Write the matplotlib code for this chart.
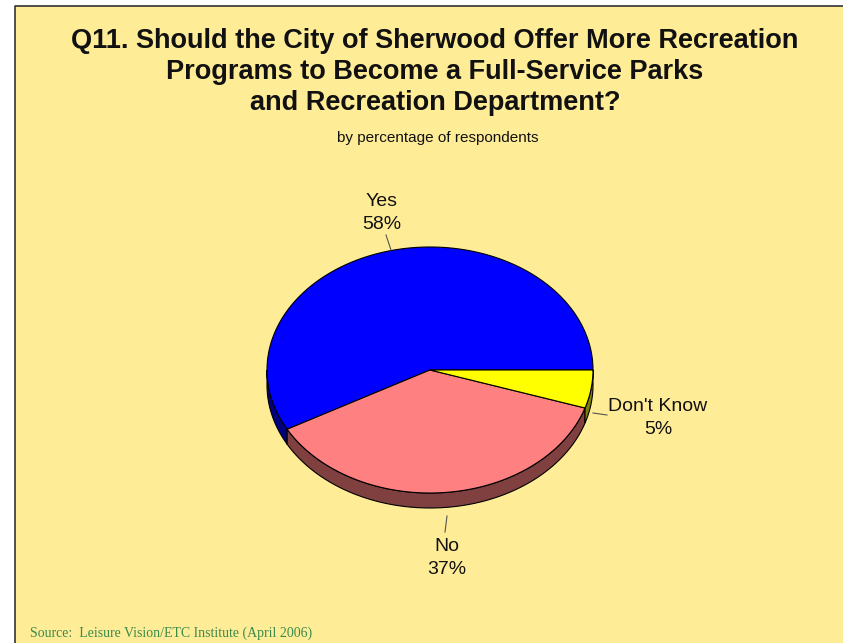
import numpy as np
import matplotlib.pyplot as plt
from matplotlib.patches import Polygon, Rectangle

# survey answers, percent of respondents
labels = ['Yes', 'No', "Don't Know"]
shares = [58, 37, 5]

top_colors = ['#0000FF', '#FF8080', '#FFFF00']
side_colors = ['#000080', '#804040', '#808000']

# label anchor (text centre) and leader end, in pixels
label_pos = [(382, 213), (447, 558), (658, 418)]
leader_end = [(386, 235), (445, 532), (607, 415)]
leader_start = [(391, 250), (447, 516), (593, 413)]

cx, cy = 430, 370      # centre of the top face
rx, ry = 163, 123      # semi axes of the tilted disc
depth = 15             # thickness of the side wall

W, H = 843, 643


def rim(t):
    """point on the top ellipse, t in degrees counter-clockwise from 3 o'clock"""
    t = np.radians(t)
    return cx + rx * np.cos(t), cy - ry * np.sin(t)


fig = plt.figure(figsize=(W / 100, H / 100), dpi=100)
fig.patch.set_facecolor('white')
ax = fig.add_axes([0, 0, 1, 1])
ax.set_xlim(0, W)
ax.set_ylim(H, 0)
ax.axis('off')

# slide panel
ax.add_patch(Rectangle((15, 6), W - 15, H - 6, facecolor='#FFEC97', edgecolor='none', zorder=0))
ax.plot([15, 15, W], [H, 6, 6], color='#333333', lw=1.2, zorder=1)

# slice angles
bounds = np.concatenate([[0], np.cumsum(shares)]) / sum(shares) * 360.0

# side walls (only the front half of the disc shows)
for i in range(len(shares)):
    lo, hi = max(bounds[i], 180), min(bounds[i + 1], 360)
    if hi <= lo:
        continue
    t = np.linspace(lo, hi, 120)
    x, y = rim(t)
    pts = np.column_stack([np.concatenate([x, x[::-1]]),
                           np.concatenate([y, y[::-1] + depth])])
    ax.add_patch(Polygon(pts, closed=True, facecolor=side_colors[i],
                         edgecolor='black', lw=0.8, zorder=2))

# top face wedges
for i in range(len(shares)):
    t = np.linspace(bounds[i], bounds[i + 1], 200)
    x, y = rim(t)
    pts = np.vstack([[cx, cy], np.column_stack([x, y])])
    ax.add_patch(Polygon(pts, closed=True, facecolor=top_colors[i],
                         edgecolor='black', lw=0.8, zorder=3))

# data labels with leader lines
for i, lab in enumerate(labels):
    (x0, y0), (x1, y1) = leader_start[i], leader_end[i]
    ax.plot([x0, x1], [y0, y1], color='#555555', lw=0.8, zorder=4)
    lx, ly = label_pos[i]
    ax.text(lx, ly, f'{lab}\n{shares[i]}%', ha='center', va='center',
            fontsize=14, family='Liberation Sans', linespacing=1.4, color='#111111', zorder=5)

ax.text(435, 72, 'Q11. Should the City of Sherwood Offer More Recreation\n'
        'Programs to Become a Full-Service Parks\n'
        'and Recreation Department?',
        ha='center', va='center', fontsize=19.5, fontweight='bold',
        family='Liberation Sans', linespacing=1.26, color='#111111')
ax.text(438, 138, 'by percentage of respondents', ha='center', va='center',
        fontsize=11, family='Liberation Sans', color='#111111')
ax.text(30, 633, 'Source:  Leisure Vision/ETC Institute (April 2006)', ha='left', va='center',
        fontsize=10, family='Liberation Serif', color='#3C8A4A')

fig.savefig('out.png', dpi=100, facecolor=fig.get_facecolor())
